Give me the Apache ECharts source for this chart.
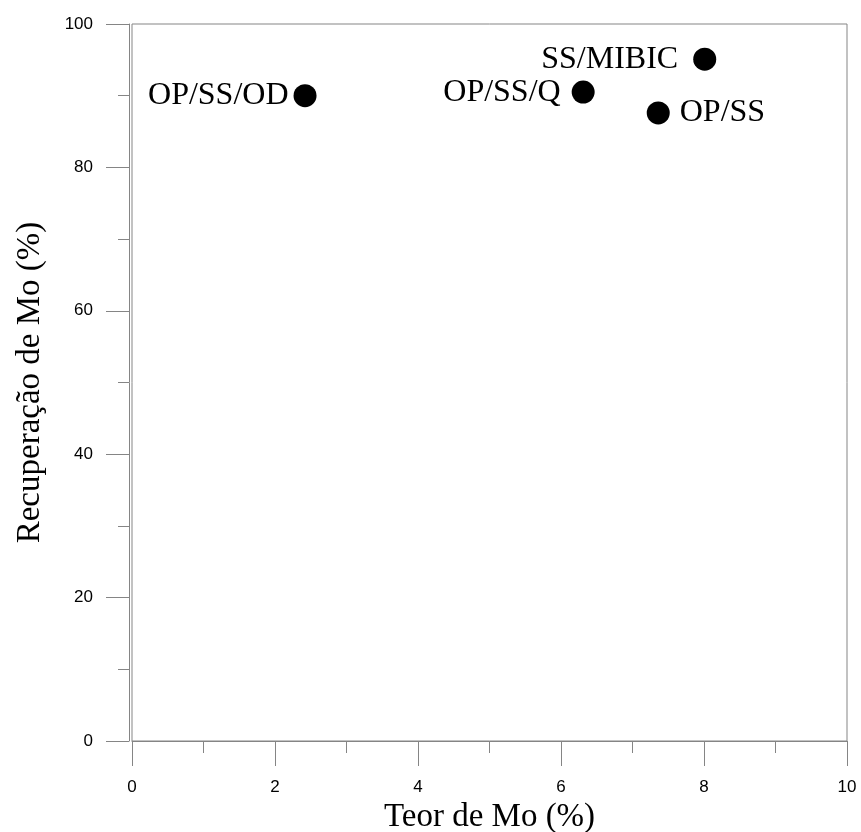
<!DOCTYPE html>
<html>
<head>
<meta charset="utf-8">
<script src="https://cdn.jsdelivr.net/npm/echarts@6/dist/echarts.min.js"></script>
<style>
  html, body { margin: 0; padding: 0; background: #fff; }
  #chart { width: 861px; height: 832px; }
</style>
</head>
<body>
<div id="chart"></div>
<script>
// Flotation routes: Mo grade vs Mo recovery
const routes = ['OP/SS/OD', 'OP/SS/Q', 'SS/MIBIC', 'OP/SS'];
const teorMo = [2.42, 6.31, 8.01, 7.36];          // %
const recuperacaoMo = [90.0, 90.5, 95.1, 87.6];   // %

const xTicks = [0, 2, 4, 6, 8, 10];
const yTicks = [0, 20, 40, 60, 80, 100];

// label side and gap for each route name
const labelSide = {
  'OP/SS/OD': ['left', 5],
  'OP/SS/Q': ['left', 11],
  'SS/MIBIC': ['left', 15],
  'OP/SS': ['right', 10]
};

const axisGray = '#858585';
const serif = '"Liberation Serif", "Times New Roman", serif';
const sans = '"Liberation Sans", Arial, sans-serif';

const points = routes.map((name, i) => ({
  name: name,
  value: [teorMo[i], recuperacaoMo[i]],
  label: {
    position: labelSide[name][0],
    distance: labelSide[name][1]
  }
}));

const chart = echarts.init(document.getElementById('chart'), null, { renderer: 'canvas' });

chart.setOption({
  animation: false,
  backgroundColor: '#ffffff',
  grid: {
    left: 132, right: 14, top: 24, bottom: 91,
    outerBoundsMode: 'none',
    containLabel: false,
    show: true,
    borderColor: axisGray,
    borderWidth: 1,
    backgroundColor: 'transparent'
  },
  xAxis: {
    type: 'value',
    min: xTicks[0],
    max: xTicks[xTicks.length - 1],
    interval: xTicks[1] - xTicks[0],
    name: 'Teor de Mo (%)',
    nameLocation: 'middle',
    nameGap: 56,
    nameTextStyle: { fontFamily: serif, fontSize: 33, color: '#000' },
    axisLine: { show: true, onZero: false, lineStyle: { color: axisGray, width: 1 } },
    axisTick: { show: true, inside: false, length: 25, lineStyle: { color: axisGray } },
    minorTick: { show: true, splitNumber: 2, length: 12, lineStyle: { color: axisGray } },
    axisLabel: { margin: 38, fontFamily: sans, fontSize: 17, color: '#000' },
    splitLine: { show: false },
    minorSplitLine: { show: false }
  },
  yAxis: {
    type: 'value',
    min: yTicks[0],
    max: yTicks[yTicks.length - 1],
    interval: yTicks[1] - yTicks[0],
    offset: 3,
    name: 'Recuperação de Mo (%)',
    nameLocation: 'middle',
    nameGap: 82,
    nameTextStyle: { fontFamily: serif, fontSize: 33, color: '#000' },
    axisLine: { show: true, onZero: false, lineStyle: { color: axisGray, width: 1 } },
    axisTick: { show: true, inside: false, length: 23, lineStyle: { color: axisGray } },
    minorTick: { show: true, splitNumber: 2, length: 11, lineStyle: { color: axisGray } },
    axisLabel: { margin: 36, fontFamily: sans, fontSize: 17, color: '#000' },
    splitLine: { show: false },
    minorSplitLine: { show: false }
  },
  series: [{
    type: 'scatter',
    symbol: 'circle',
    symbolSize: 23,
    itemStyle: { color: '#000', opacity: 1 },
    label: {
      show: true,
      formatter: '{b}',
      fontFamily: serif,
      fontSize: 32,
      color: '#000'
    },
    emphasis: { disabled: true },
    data: points
  }]
});
</script>
</body>
</html>
